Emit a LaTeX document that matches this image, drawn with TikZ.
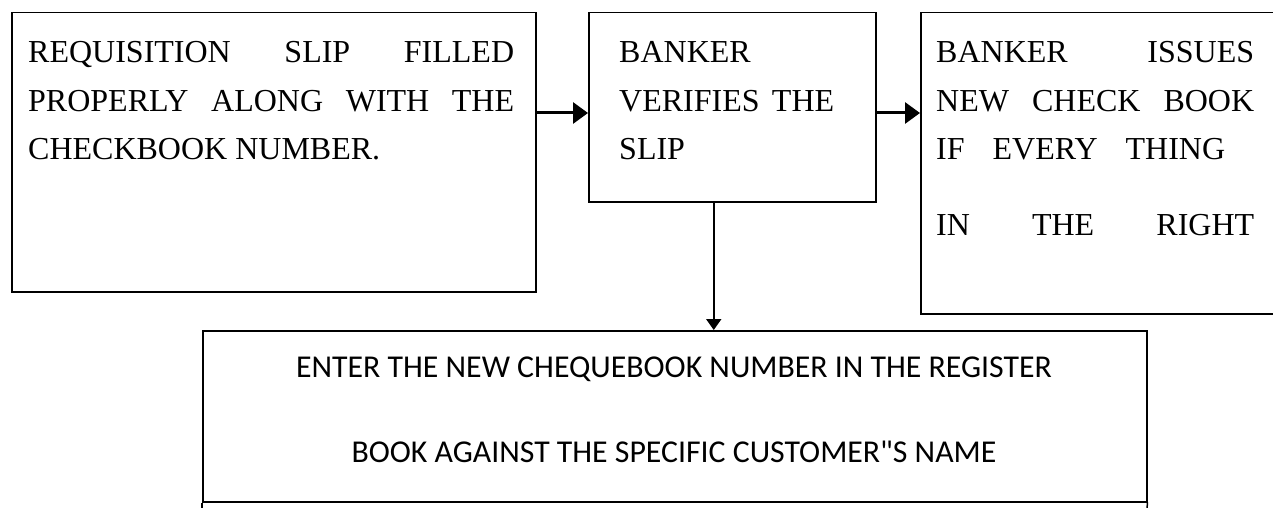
\documentclass[tikz,border=0pt]{standalone}
\usepackage{fontspec}
\setmainfont{Liberation Serif}
\newfontfamily\calib{Carlito}
\usetikzlibrary{arrows.meta,calc}
\begin{document}
\begin{tikzpicture}[x=1pt,y=-1pt,
  box/.style={draw,line width=1.5pt,inner sep=0pt,anchor=north west},
  ln/.style={inner sep=0pt,anchor=base west,font=\fontsize{32}{32}\selectfont},
  cl/.style={inner sep=0pt,anchor=base,font=\calib\fontsize{31.8}{31.8}\selectfont},
  harrow/.style={line width=3pt,-{Triangle[length=15pt,width=21pt]}},
  varrow/.style={line width=2pt,-{Triangle[length=11pt,width=15pt]}}]
\useasboundingbox (0,0) rectangle (1273,508);
\clip (0,0) rectangle (1273,508);
\node[box,minimum width=524pt,minimum height=279pt] (b1) at (11,12) {};
\node[box,minimum width=287pt,minimum height=189pt] (b2) at (588,12) {};
\node[box,minimum width=400pt,minimum height=301pt] (b3) at (920,12) {};
\node[box,minimum width=944pt,minimum height=171pt] (b4) at (202,330) {};
\coordinate (e1) at (202,520);
\coordinate (e2) at (1146,520);
\draw[line width=1.5pt] (b4.south west) -- (e1);
\draw[line width=1.5pt] (b4.south east) -- (e2);
% box 1 text
\node[ln] (t11) at (28,63) {\makebox[486pt][s]{REQUISITION SLIP FILLED}};
\node[ln] (t12) at (28,111) {\makebox[486pt][s]{PROPERLY ALONG WITH THE}};
\node[ln] (t13) at (28,159) {CHECKBOOK NUMBER.};
% box 2 text
\node[ln] (t21) at (619,63) {BANKER};
\node[ln] (t22) at (619,111) {\makebox[215pt][s]{VERIFIES THE}};
\node[ln] (t23) at (619,159) {SLIP};
% box 3 text
\node[ln] (t31) at (936,63) {\makebox[318pt][s]{BANKER ISSUES}};
\node[ln] (t32) at (936,111) {\makebox[318pt][s]{NEW CHECK BOOK}};
\node[ln] (t33) at (936,159) {\makebox[289pt][s]{IF EVERY THING}};
\node[ln] (t34) at (936,235) {\makebox[318pt][s]{IN THE RIGHT}};
% box 4 text
\node[cl] (t41) at (674,377) {ENTER THE NEW CHEQUEBOOK NUMBER IN THE REGISTER};
\node[cl] (t42) at (674,462) {BOOK AGAINST THE SPECIFIC CUSTOMER\textquotedbl S NAME};
% connectors
\draw[harrow] ($(b1.north east)+(0,101)$) -- ($(b2.north west)+(0,101)$);
\draw[harrow] ($(b2.north east)+(0,101)$) -- ($(b3.north west)+(0,101)$);
\draw[varrow] ([xshift=-18.5pt]b2.south) -- ([xshift=-18.5pt]b2.south |- b4.north);
\end{tikzpicture}
\end{document}
